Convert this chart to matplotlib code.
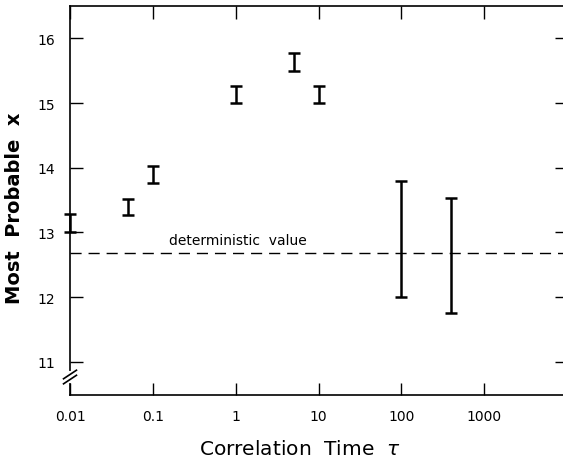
import matplotlib
matplotlib.use("Agg")
import matplotlib.pyplot as plt
import numpy as np

# data
tau = [0.01, 0.05, 0.1, 1, 5, 10, 100, 400]
x_low = [13.01, 13.27, 13.76, 15.00, 15.50, 15.00, 12.00, 11.76]
x_high = [13.28, 13.52, 14.03, 15.26, 15.77, 15.26, 13.79, 13.53]
det_value = 12.68
xticks = [0.01, 0.1, 1, 10, 100, 1000]
xtick_labels = ["0.01", "0.1", "1", "10", "100", "1000"]
yticks = [11, 12, 13, 14, 15, 16]

plt.rcParams["font.family"] = ["DejaVu Sans"]

fig = plt.figure(figsize=(5.63, 4.60), dpi=100)
ax = fig.add_axes([70 / 563, 1 - 395.7 / 460, 497 / 563, 388.7 / 460])

# error bars as I-beams
mid = [(a + b) / 2 for a, b in zip(x_low, x_high)]
half = [(b - a) / 2 for a, b in zip(x_low, x_high)]
ax.errorbar(tau, mid, yerr=half, fmt="none", ecolor="black",
            elinewidth=1.8, capsize=4, capthick=1.8, clip_on=False, zorder=3)

# deterministic value
ax.axhline(det_value, color="black", lw=1.0, dashes=(8, 5))
ax.text(0.155, det_value + 0.09, "deterministic  value", fontsize=10,
        ha="left", va="bottom")

ax.set_xscale("log")
ax.set_xlim(0.01, 1e4)
ax.set_ylim(10.49, 16.5)

ax.set_xticks(xticks)
ax.set_xticklabels(xtick_labels)
ax.xaxis.set_minor_locator(matplotlib.ticker.NullLocator())
ax.set_yticks(yticks)
ax.tick_params(axis="both", direction="in", length=9, width=1.0,
               top=True, right=True, labelsize=10)
ax.tick_params(axis="x", pad=10)
ax.tick_params(axis="y", pad=11)

for sp in ax.spines.values():
    sp.set_linewidth(1.2)

# axis break on the left spine: gap plus two slashes
ax.plot([0, 0], [0.036, 0.056], transform=ax.transAxes, color="white",
        lw=3, clip_on=False, zorder=4)
for dy in (0.0, 0.013):
    ax.plot([-0.013, 0.013], [0.028 + dy, 0.050 + dy], transform=ax.transAxes,
            color="black", lw=1.2, clip_on=False, zorder=5)

fig.text(300 / 563, 1 - 450 / 460, "Correlation  Time  $\\tau$",
         ha="center", va="center", fontsize=14.5)
fig.text(15 / 563, 1 - 208 / 460, "Most  Probable  x", rotation=90,
         ha="center", va="center", fontsize=14, fontweight="bold")

fig.savefig("out.png", dpi=100)
